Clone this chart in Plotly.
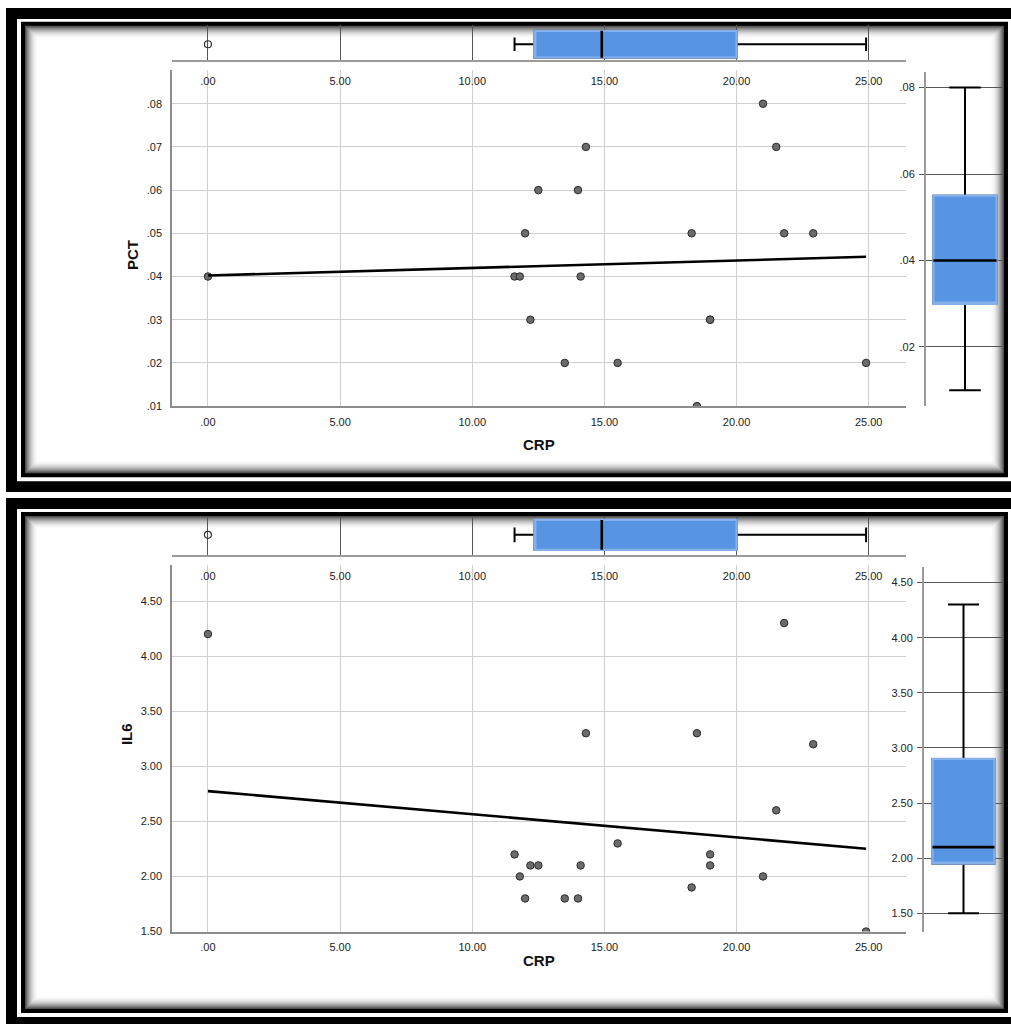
import numpy as np
import plotly.graph_objects as go

# ---- data -------------------------------------------------------------
crp = [0.0, 11.6, 11.8, 12.0, 12.2, 12.5, 13.5, 14.0, 14.1, 14.3,
       15.5, 18.3, 18.5, 19.0, 19.0, 21.0, 21.5, 21.8, 22.9, 24.9]
pct = [0.04, 0.04, 0.04, 0.05, 0.03, 0.06, 0.02, 0.06, 0.04, 0.07,
       0.02, 0.05, 0.01, 0.03, 0.03, 0.08, 0.07, 0.05, 0.05, 0.02]
il6 = [4.2, 2.2, 2.0, 1.8, 2.1, 2.1, 1.8, 1.8, 2.1, 3.3,
       2.3, 1.9, 3.3, 2.2, 2.1, 2.0, 2.6, 4.3, 3.2, 1.5]

crp_ticks = [0, 5, 10, 15, 20, 25]
crp_labels = [".00", "5.00", "10.00", "15.00", "20.00", "25.00"]
pct_ticks = [0.01, 0.02, 0.03, 0.04, 0.05, 0.06, 0.07, 0.08]
pct_labels = [".01", ".02", ".03", ".04", ".05", ".06", ".07", ".08"]
pct_box_ticks = [0.02, 0.04, 0.06, 0.08]
pct_box_labels = [".02", ".04", ".06", ".08"]
il6_ticks = [1.5, 2.0, 2.5, 3.0, 3.5, 4.0, 4.5]
il6_labels = ["1.50", "2.00", "2.50", "3.00", "3.50", "4.00", "4.50"]

# ---- page geometry helpers (pixel -> paper) ---------------------------
W, H = 1011, 1024


def fx(p):
    return p / W


def fy(p):
    return 1 - p / H


FONT = "Liberation Sans, Arial, sans-serif"
TICK_FONT = dict(family=FONT, size=11, color="#222")
BOX_FILL = "#5795e3"
BOX_EDGE = "#86b0ec"
GRID_LIGHT = "#cfcfcf"
GRID_DARK = "#555555"
AXIS_GRAY = "#8c8c8c"


def tukey_hinges(vals):
    """Lower hinge, median, upper hinge (Tukey), as used for box plots."""
    v = np.sort(np.asarray(vals, dtype=float))
    k = (len(v) + 1) // 2
    return float(np.median(v[:k])), float(np.median(v)), float(np.median(v[-k:]))


fig = go.Figure()


def add_marginal_box(vals, xa, ya, horizontal, boxw):
    """Box with black whiskers/median and a soft-edged blue body."""
    q1, med, q3 = tukey_hinges(vals)
    data_key = "x" if horizontal else "y"
    pos_key = "y" if horizontal else "x"
    orient = "h" if horizontal else "v"

    # whiskers, caps and outliers
    fig.add_trace(go.Box(
        **{data_key: vals, pos_key + "0": 0}, orientation=orient,
        xaxis=xa, yaxis=ya, quartilemethod="exclusive", boxpoints="outliers",
        fillcolor=BOX_FILL, line=dict(color="black", width=2),
        whiskerwidth=0.5, width=boxw,
        marker=dict(symbol="circle-open", size=7, color="#333",
                    line=dict(width=1.2, color="#333")),
        hoverinfo="skip", showlegend=False))
    # blue body with a light edge, laid over the black outline
    fig.add_trace(go.Box(
        **{pos_key: [0]}, q1=[q1], median=[q1], q3=[q3],
        lowerfence=[q1], upperfence=[q3], orientation=orient,
        xaxis=xa, yaxis=ya, fillcolor=BOX_FILL,
        line=dict(color=BOX_EDGE, width=2.3), whiskerwidth=0, width=boxw,
        boxpoints=False, hoverinfo="skip", showlegend=False))
    # median bar
    fig.add_trace(go.Box(
        **{pos_key: [0]}, q1=[med], median=[med], q3=[med],
        lowerfence=[med], upperfence=[med], orientation=orient,
        xaxis=xa, yaxis=ya, fillcolor="rgba(0,0,0,0)",
        line=dict(color="black", width=2.6), whiskerwidth=0, width=boxw,
        boxpoints=False, hoverinfo="skip", showlegend=False))


def add_panel(yvals, sfx, scat_dom, scat_range, yticks, ylabels,
              top_dom, top_range, top_boxw,
              side_xdom, side_dom, side_range, side_ticks, side_labels, side_boxw):
    xs, ys, xt, yt, xr, yr = sfx

    # scatter of the biomarker against CRP
    fig.add_trace(go.Scatter(
        x=crp, y=yvals, mode="markers", xaxis=xs, yaxis=ys,
        marker=dict(size=7.5, color="#6b6b6b", line=dict(color="#2b2b2b", width=1)),
        hoverinfo="x+y", showlegend=False))

    # least-squares fit line across the observed CRP range
    slope, icpt = np.polyfit(crp, yvals, 1)
    xl = np.array([min(crp), max(crp)])
    fig.add_trace(go.Scatter(
        x=xl, y=icpt + slope * xl, mode="lines", xaxis=xs, yaxis=ys,
        line=dict(color="black", width=2.6), hoverinfo="skip", showlegend=False))

    # marginal box plots: CRP on top, biomarker on the right
    add_marginal_box(crp, xt, yt, True, top_boxw)
    add_marginal_box(yvals, xr, yr, False, side_boxw)

    n = lambda a: a.replace("x", "xaxis").replace("y", "yaxis")
    xdom = [fx(172), fx(906)]
    xrange = [-1.36, 26.41]

    fig.layout[n(xs)] = dict(
        domain=xdom, range=xrange, anchor=ys,
        tickvals=crp_ticks, ticktext=crp_labels, tickfont=TICK_FONT,
        showgrid=True, gridcolor=GRID_LIGHT, gridwidth=1,
        showline=True, linecolor=AXIS_GRAY, linewidth=1.5,
        ticks="", ticklabelstandoff=5, zeroline=False)
    fig.layout[n(ys)] = dict(
        domain=scat_dom, range=scat_range, anchor=xs,
        tickvals=yticks, ticktext=ylabels, tickfont=TICK_FONT,
        showgrid=True, gridcolor=GRID_LIGHT, gridwidth=1,
        showline=True, linecolor=AXIS_GRAY, linewidth=1.5,
        ticks="", ticklabelstandoff=6, zeroline=False)

    fig.layout[n(xt)] = dict(
        domain=xdom, range=xrange, anchor=yt,
        tickvals=crp_ticks, ticktext=crp_labels, tickfont=TICK_FONT,
        showgrid=True, gridcolor=GRID_DARK, gridwidth=1,
        showline=True, linecolor="#9a9a9a", linewidth=2,
        ticks="", ticklabelstandoff=10, zeroline=False)
    fig.layout[n(yt)] = dict(
        domain=top_dom, range=top_range, anchor=xt, visible=False)

    fig.layout[n(xr)] = dict(
        domain=side_xdom, range=[-0.5, 0.5], anchor=yr, visible=False)
    fig.layout[n(yr)] = dict(
        domain=side_dom, range=side_range, anchor=xr,
        tickvals=side_ticks, ticktext=side_labels, tickfont=TICK_FONT,
        showgrid=True, gridcolor=GRID_DARK, gridwidth=1,
        showline=True, linecolor="#9a9a9a", linewidth=2,
        ticks="outside", ticklen=5, tickcolor=GRID_DARK,
        ticklabelstandoff=2, zeroline=False)


# PCT vs CRP
add_panel(
    pct, ("x", "y", "x2", "y2", "x3", "y3"),
    scat_dom=[fy(408.5), fy(70)], scat_range=[0.01, 0.0879],
    yticks=pct_ticks, ylabels=pct_labels,
    top_dom=[fy(60), fy(25)], top_range=[-0.443, 0.557], top_boxw=0.77,
    side_xdom=[fx(926), fx(1004)], side_dom=[fy(408), fy(72)],
    side_range=[0.00644, 0.0837],
    side_ticks=pct_box_ticks, side_labels=pct_box_labels, side_boxw=0.81)

# IL6 vs CRP
add_panel(
    il6, ("x4", "y4", "x5", "y5", "x6", "y6"),
    scat_dom=[fy(937), fy(568)], scat_range=[1.5, 4.83],
    yticks=il6_ticks, ylabels=il6_labels,
    top_dom=[fy(558), fy(520)], top_range=[-0.526, 0.474], top_boxw=0.79,
    side_xdom=[fx(924), fx(1003)], side_dom=[fy(937), fy(570)],
    side_range=[1.335, 4.644],
    side_ticks=il6_ticks, side_labels=il6_labels, side_boxw=0.785)


# ---- framed panels (double black border with an inner soft shadow) ----
shapes = []


def rect(x0, y0, x1, y1, color):
    shapes.append(dict(type="rect", xref="paper", yref="paper",
                       x0=fx(x0), x1=fx(x1), y0=fy(y1), y1=fy(y0),
                       fillcolor=color, line=dict(width=0), layer="below"))


def frame(top, bottom):
    rect(6, top, 1030, bottom, "black")
    rect(17, top + 11, 1020, bottom - 11, "white")
    rect(21, top + 14, 1008, bottom - 15, "black")
    steps = 13
    for i in range(steps + 1):
        t = i / steps
        g = int(80 + (255 - 80) * (1 - (1 - t) ** 2))
        rect(25 + i, top + 18 + i, 1004 - i, bottom - 19 - i, f"rgb({g},{g},{g})")


frame(8, 495)
frame(501, 1034)

fig.update_layout(shapes=shapes)

# ---- axis titles ------------------------------------------------------
title_font = dict(family=FONT, size=15, color="#111")
fig.update_layout(annotations=[
    dict(text="<b>CRP</b>", x=fx(539), y=fy(447), xref="paper", yref="paper",
         showarrow=False, font=title_font),
    dict(text="<b>PCT</b>", x=fx(122), y=fy(240), xref="paper", yref="paper",
         showarrow=False, font=title_font, textangle=-90),
    dict(text="<b>CRP</b>", x=fx(539), y=fy(977), xref="paper", yref="paper",
         showarrow=False, font=title_font),
    dict(text="<b>IL6</b>", x=fx(116), y=fy(752), xref="paper", yref="paper",
         showarrow=False, font=title_font, textangle=-90),
])

fig.update_layout(
    width=W, height=H, margin=dict(l=0, r=0, t=0, b=0),
    paper_bgcolor="white", plot_bgcolor="rgba(0,0,0,0)",
    font=dict(family=FONT), showlegend=False)

fig.write_html("out.html")
